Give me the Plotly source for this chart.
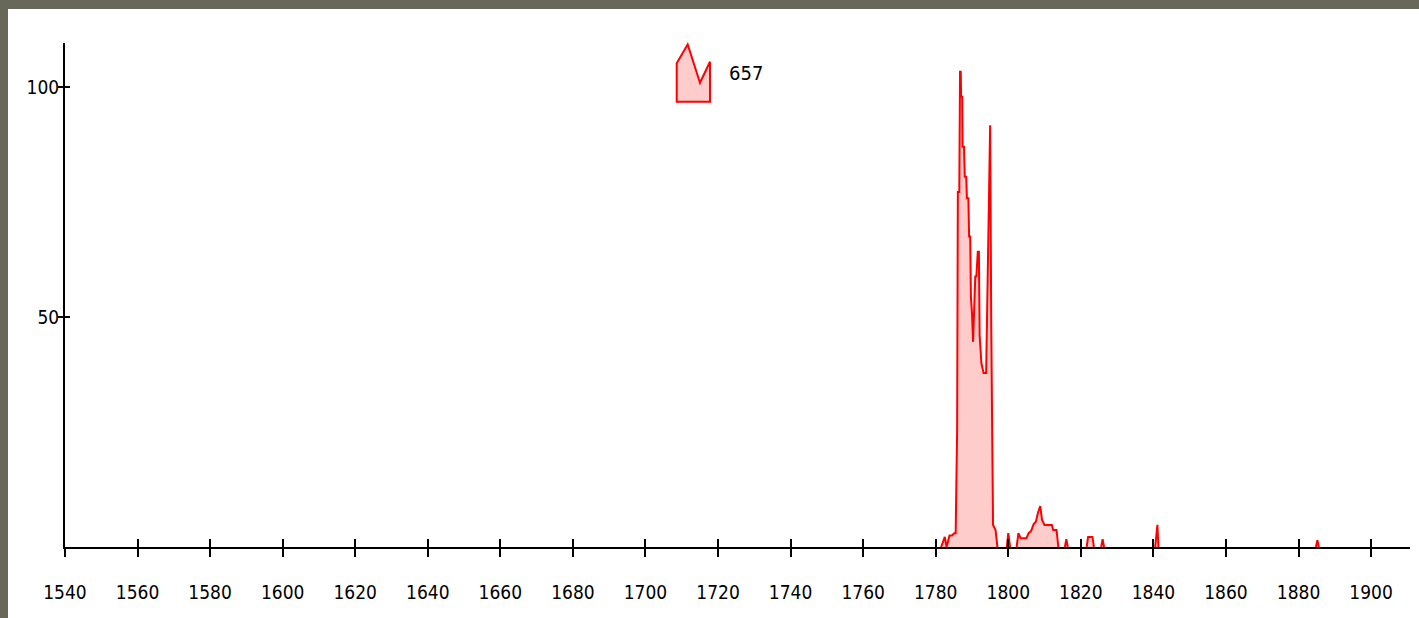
import plotly.graph_objects as go

# ---- data; None marks a stretch sitting on the baseline ----
years = [1781.5, 1782.5, 1783.0, 1783.8, 1784.5, 1785.1, 1785.5, 1785.7, 1785.9,
         1786.1, 1786.5, 1786.7, 1786.9, 1787.0, 1787.3, 1787.4, 1787.8, 1788.0, 1788.4,
         1788.6, 1789.0, 1789.2, 1789.5, 1789.7, 1790.0, 1790.3, 1790.6, 1790.9, 1791.2,
         1791.6, 1791.9, 1792.1, 1792.6, 1793.2, 1793.9, 1794.2, 1794.6, 1795.0, 1795.3,
         1795.8, 1796.5, 1797.0, None, 1799.6, 1800.0, 1800.5, None, 1802.3, 1802.8, 1803.4,
         1805.0, 1805.6, 1806.3, 1807.0, 1807.6, 1808.2, 1808.8, 1809.3, 1810.0, 1811.0,
         1812.0, 1812.4, 1813.3, 1813.8, None, 1815.6, 1816.0, 1816.4, None, 1821.6, 1822.0,
         1823.2, 1823.6, None, 1825.6, 1826.0, 1826.4, None, 1840.5, 1840.8, 1841.1, 1841.4,
         None, 1884.8, 1885.2, 1885.6]
values = [0, 2.2, 0, 2.5, 2.5, 3.0, 3.0, 25.4, 25.4,
          77.2, 77.2, 103.3, 103.3, 97.9, 97.9, 87.0, 87.0, 80.5, 80.5,
          75.8, 75.8, 67.5, 67.5, 54.4, 50.8, 44.6, 50.1, 58.8, 58.8,
          64.2, 64.2, 46.1, 39.9, 37.8, 37.8, 51.2, 78.0, 91.7, 48.6,
          4.8, 3.7, 0, None, 0, 3.0, 0, None, 0, 3.0, 1.9,
          1.9, 3.0, 3.5, 5.0, 5.5, 7.5, 8.9, 5.9, 4.8, 4.8,
          4.8, 3.7, 3.7, 0, None, 0, 1.7, 0, None, 0, 2.2,
          2.2, 0, None, 0, 1.7, 0, None, 0, 1.8, 4.8, 0,
          None, 0, 1.5, 0]
series_name = "657"
x_ticks = list(range(1540, 1901, 20))
y_ticks = [50, 100]

# ---- layout geometry (pixels) ----
W, H = 1419, 618
L, R, T, B = 65, 1410, 43, 547
X_RANGE = [1540, 1540 + (R - L) / 3.628]
Y_RANGE = [0, (B - T) / 4.6]
FONT = "DejaVu Sans Condensed, Liberation Sans Narrow, sans-serif"


def px(x):
    return (x - L) / (R - L)


def py(y):
    return (B - y) / (B - T)


fig = go.Figure()
fig.add_trace(go.Scatter(
    x=years, y=values, mode="lines", name=series_name, connectgaps=False,
    line=dict(color="#ff0000", width=2), fill="tozeroy", fillcolor="#ffcccc",
    showlegend=False, hoverinfo="x+y"))
fig.add_trace(go.Scatter(x=[], y=[], xaxis="x2", yaxis="y2", showlegend=False,
                         hoverinfo="skip"))

tickfont = dict(family=FONT, size=19, color="black")
fig.update_layout(
    width=W, height=H,
    margin=dict(l=L, r=W - R, t=T, b=H - B, pad=0),
    paper_bgcolor="white", plot_bgcolor="white",
    xaxis=dict(range=X_RANGE, tickvals=x_ticks, ticks="outside", ticklen=8,
               tickwidth=2, tickcolor="black", showline=True, linecolor="black",
               linewidth=2, showgrid=False, zeroline=False, tickfont=tickfont,
               ticklabelstandoff=19, fixedrange=True),
    yaxis=dict(range=Y_RANGE, tickvals=y_ticks, ticks="outside", ticklen=5,
               tickwidth=2, tickcolor="black", showline=True, linecolor="black",
               linewidth=2, showgrid=False, zeroline=False, tickfont=tickfont,
               ticklabelstandoff=-5, fixedrange=True),
    xaxis2=dict(range=X_RANGE, overlaying="x", tickvals=x_ticks, ticks="inside",
                ticklen=8, tickwidth=2, tickcolor="black", showticklabels=False,
                showgrid=False, zeroline=False, showline=False, side="bottom",
                anchor="y2", fixedrange=True),
    yaxis2=dict(range=Y_RANGE, overlaying="y", tickvals=y_ticks, ticks="inside",
                ticklen=5, tickwidth=2, tickcolor="black", showticklabels=False,
                showgrid=False, zeroline=False, showline=False, side="left",
                anchor="x2", fixedrange=True),
    showlegend=False,
)

# gray frame (page border) at left and top
fig.add_shape(type="rect", xref="paper", yref="paper", x0=px(0), x1=px(8),
              y0=py(H), y1=py(0), fillcolor="#67675a", line_width=0, layer="below")
fig.add_shape(type="rect", xref="paper", yref="paper", x0=px(0), x1=px(W),
              y0=py(9), y1=py(0), fillcolor="#67675a", line_width=0, layer="below")

# legend icon + label
icon = [(676.7, 63.3), (687.7, 44.5), (700.0, 82.7), (710.0, 61.7), (710.0, 101.7), (676.7, 101.7)]
path = "M " + " L ".join(f"{px(a):.5f},{py(b):.5f}" for a, b in icon) + " Z"
fig.add_shape(type="path", xref="paper", yref="paper", path=path,
              fillcolor="#ffcccc", line=dict(color="#ff0000", width=2))
fig.add_annotation(xref="paper", yref="paper", x=px(727), y=py(73), text=series_name,
                   showarrow=False, xanchor="left", yanchor="middle",
                   font=dict(family=FONT, size=20, color="black"))

fig.write_html("out.html", config={"displayModeBar": False},
               post_script="document.body.style.margin='0';document.body.style.overflow='hidden';")
